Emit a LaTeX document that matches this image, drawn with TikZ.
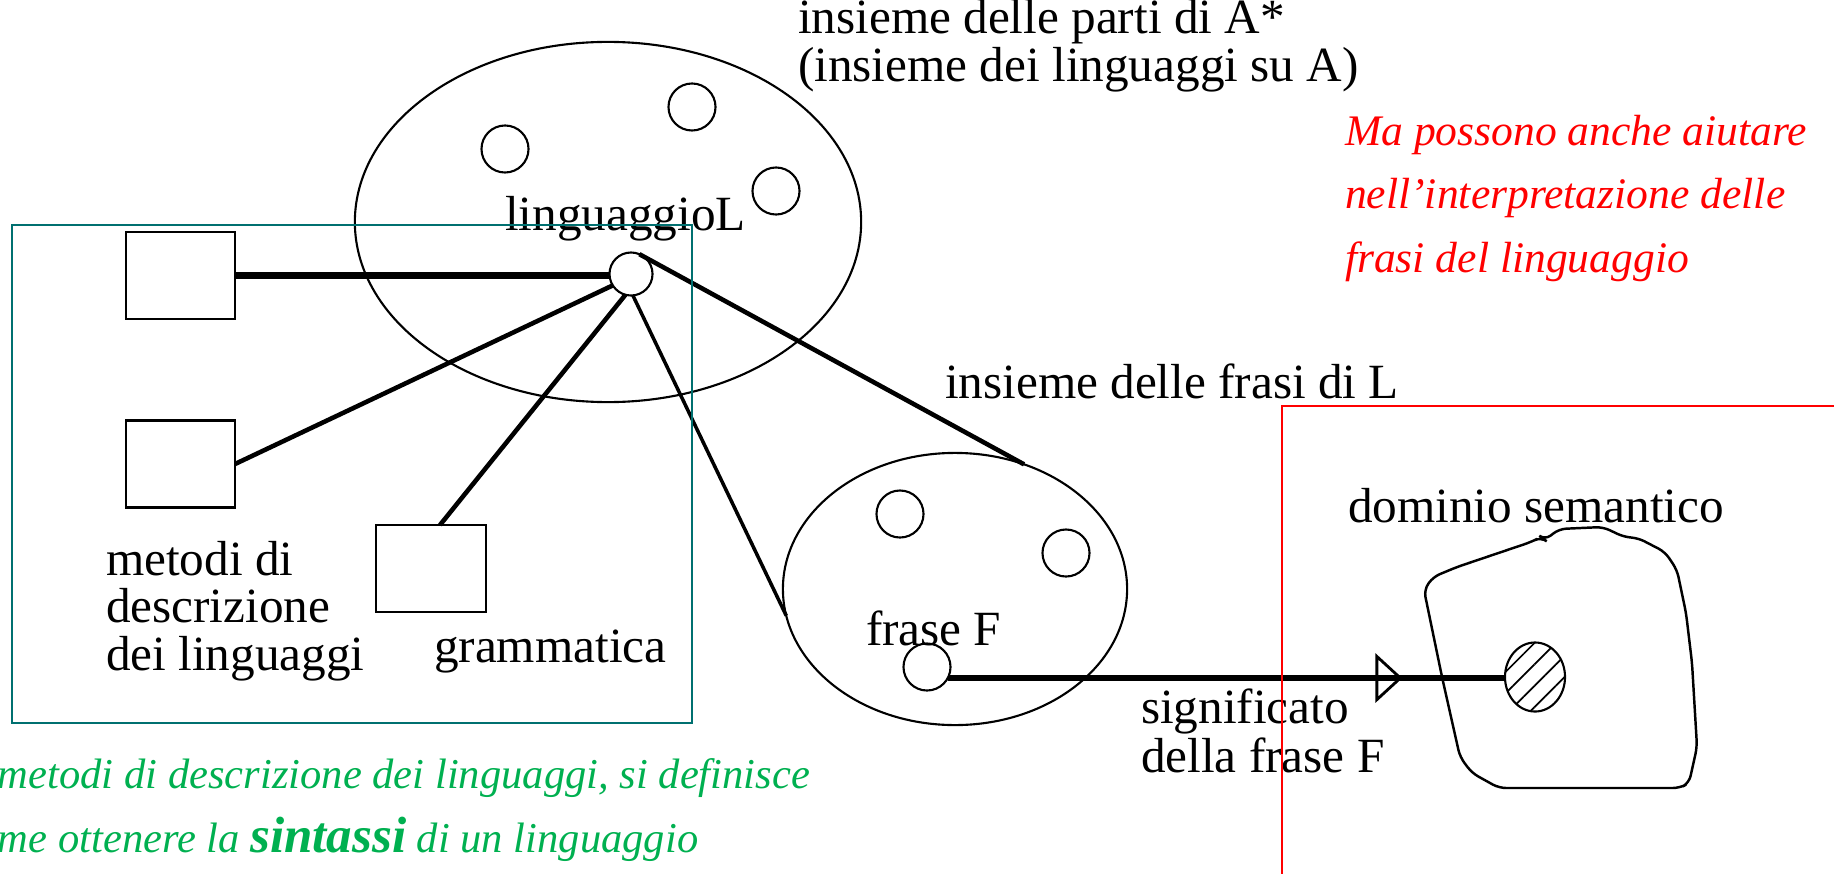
\documentclass[tikz,border=0pt]{standalone}
\usepackage{fontspec}
\setmainfont{Liberation Serif}
\usetikzlibrary{shapes.geometric,arrows.meta,decorations.markings,patterns.meta}
\definecolor{bordoteal}{RGB}{0,112,112}
\definecolor{testoverde}{RGB}{0,176,80}
\definecolor{testorosso}{RGB}{255,0,0}

\begin{document}
\begin{tikzpicture}[x=0.01cm,y=-0.01cm,
    every node/.style={inner sep=0pt,outer sep=0pt},
    etic/.style={anchor=base west,align=left,font=\fontsize{14}{12.5}\selectfont},
    nota/.style={anchor=base west,align=left,font=\itshape\fontsize{12.4}{18}\selectfont},
    insieme/.style={draw,ellipse,line width=.6pt},
    elem/.style={draw,circle,minimum size=.47cm,line width=.6pt},
    metodo/.style={draw,rectangle,line width=.8pt,minimum width=1.09cm,minimum height=.87cm}]
    \useasboundingbox (0,0) rectangle (1834,873);
    % Insieme delle parti di A*: i linguaggi sono elementi dell'ellisse grande.
    \node[insieme,minimum width=5.06cm,minimum height=3.60cm] (parti) at (608,222) {};
    \foreach \nn/\pp in {pA/{(505,149)},pB/{(692,107)},pC/{(776,191)}} {
        \node[elem] (\nn) at \pp {};
    }
    \node[elem,minimum size=.43cm] (lingL) at (631,274) {};
    \node[etic] (lblLing) at (505,230) {linguaggioL};
    % (nodi su piu' righe: la base e' quella dell'ultima riga)
    \node[etic,font=\fontsize{14}{11.2}\selectfont] (lblParti) at (798,82)
        {insieme delle parti di A*\\(insieme dei linguaggi su A)};
    % Metodi di descrizione dei linguaggi.
    \node[metodo] (mA) at (180.5,275.5) {};
    \node[metodo] (mB) at (180.5,464) {};
    \node[metodo,minimum width=1.10cm] (gram) at (431,568.5) {};
    \node[etic,font=\fontsize{14}{13.4}\selectfont] (lblMetodi) at (106,670)
        {metodi di\\descrizione\\dei linguaggi};
    \node[etic] (lblGram) at (434,662) {grammatica};
    \draw[line width=2pt] (mA.east) -- (mA.east -| lingL.west);
    \draw[line width=1.3pt] (mB.east) -- (lingL.212);
    \draw[line width=1.3pt] ([xshift=.09cm]gram.north) -- (lingL.255);
    % Insieme delle frasi di L.
    \node[insieme,minimum width=3.44cm,minimum height=2.72cm] (frasi) at (955,589) {};
    \node[elem] (fA) at (900,514) {};
    \node[elem] (fB) at (1066,553) {};
    \node[elem] (fraseF) at (927,667) {};
    \node[etic] (lblFrasi) at (945,398) {insieme delle frasi di L};
    \node[etic] (lblFrase) at (866,645) {frase F};
    \draw[line width=1pt] (lingL.275) -- (frasi.189);
    \draw[line width=1.3pt] (lingL.67) -- (frasi.61);
    % Dominio semantico e significato della frase.
    \draw[line width=.7pt,rounded corners=2pt] (1424,590) -- (1433,577) -- (1457,567)
        -- (1531,542) -- (1541,537) -- (1545,540) -- (1559,529) -- (1603,527)
        -- (1624,537) -- (1638,538) -- (1665,552) -- (1677,570) -- (1686,613)
        -- (1692,663) -- (1697,747) -- (1689,783) -- (1680,788) -- (1499,788)
        -- (1472,773) -- (1460,757) -- (1442,677) -- cycle;
    \node[draw,ellipse,line width=.6pt,minimum width=.60cm,minimum height=.69cm,
        pattern={Lines[angle=45,distance=4.3pt,line width=.5pt]}] (sem) at (1535,677) {};
    \node[etic] (lblDom) at (1348,522) {dominio semantico};
    \node[etic] (lblSign) at (1141,772) {significato\\della frase F};
    \draw[line width=1.6pt,postaction={decorate},
        decoration={markings,mark=at position .816 with
            {\arrow{Triangle[open,length=.27cm,width=.49cm,line width=.8pt]}}}]
        (fraseF.-28) -- (fraseF.-28 -| sem.west);
    % Riquadri e commenti.
    \draw[bordoteal,line width=.8pt] (12,225) rectangle (692,723);
    \draw[testorosso,line width=.6pt] (1282,406) rectangle (1850,890);
    \node[nota,text=testorosso] (notaRossa) at (1345,272)
        {Ma possono anche aiutare\\nell’interpretazione delle\\frasi del linguaggio};
    \node[nota,text=testoverde,font=\itshape\fontsize{12.1}{18.2}\selectfont] (notaVerde) at (-2,852)
        {metodi di descrizione dei linguaggi, si definisce\\me ottenere la
        {\fontsize{14.5}{18}\selectfont\bfseries sintassi} di un linguaggio};
\end{tikzpicture}
\end{document}
